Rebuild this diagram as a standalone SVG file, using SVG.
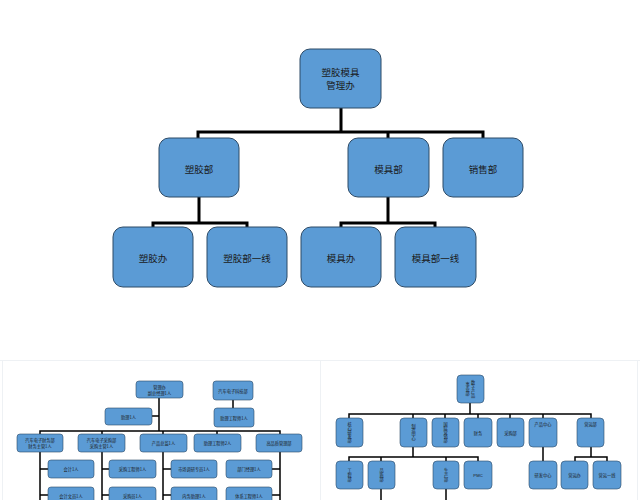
<svg xmlns="http://www.w3.org/2000/svg" width="640" height="500" viewBox="0 0 640 500">
<style>
.n{fill:#5b9bd5;stroke:#2d4a66;stroke-width:1}
.ns{fill:#5b9bd5;stroke:#2d4a66;stroke-width:0.6}
.t{font-family:"Noto Sans CJK SC","Liberation Sans",sans-serif;font-size:9.5px;fill:#1a1a1a;text-anchor:middle;dominant-baseline:central}
.s{font-family:"Noto Sans CJK SC","Liberation Sans",sans-serif;font-size:4.2px;fill:#1a1a1a;text-anchor:middle;dominant-baseline:central}
.v{font-family:"Noto Sans CJK SC","Liberation Sans",sans-serif;font-size:4.2px;fill:#1a1a1a;text-anchor:middle;writing-mode:vertical-rl}
.c{fill:none;stroke:#000;stroke-width:3}
.cs{fill:none;stroke:#000;stroke-width:1.5}
.p{fill:none;stroke:#eef1f4;stroke-width:1}
</style>
<rect width="640" height="500" fill="#fff"/>
<g id="panels">
<path class="p" d="M0,360.5 H640 M320.5,360 V500 M2.5,360 V500 M637.5,360 V500"/>
</g>
<g id="connectors">
<path class="c" d="M341,108 V132 M198,138 V132 H483 V138 M388,132 V138"/>
<path class="c" d="M199,197 V223 M153,227 V223 H247 V227"/>
<path class="c" d="M388,197 V223 M341,227 V223 H435 V227"/>
<path class="cs" d="M159,398 V431 M152,416 H159 M40,434 V431 H280 V434 M102,431 V434 M163,431 V434 M217,431 V434 M233,400 V408"/>
<path class="cs" d="M40,452 V500 M40,469 H48 M40,495 H48 M102,452 V500 M102,469 H109 M102,495 H109 M163,452 V500 M163,469 H171 M163,495 H171 M280,452 V500 M280,469 H272 M280,495 H272"/>
<path class="cs" d="M470,403 V414 M349,418 V414 H591 V418 M413,414 V418 M445,414 V418 M478,414 V418 M510,414 V418 M543,414 V418"/>
<path class="cs" d="M413,447 V457 M349,461 V457 H478 V461 M381,457 V461 M446,457 V461 M381,489 V500 M446,489 V500 M543,447 V461 M591,447 V457 M575,461 V457 H607 V461"/>
</g>
<g id="top-root"><rect class="n" x="300" y="49" width="81" height="59" rx="10"/><text class="t" x="340.5" y="72">塑胶模具</text><text class="t" x="340.5" y="85">管理办</text></g>
<g id="top-suojiaobu"><rect class="n" x="159" y="138" width="80" height="59" rx="10"/><text class="t" x="199" y="169">塑胶部</text></g>
<g id="top-mojubu"><rect class="n" x="348" y="138" width="81" height="59" rx="10"/><text class="t" x="388.5" y="169">模具部</text></g>
<g id="top-xiaoshoubu"><rect class="n" x="443" y="138" width="80" height="59" rx="10"/><text class="t" x="483" y="169">销售部</text></g>
<g id="top-suojiaoban"><rect class="n" x="113" y="227" width="80" height="60" rx="10"/><text class="t" x="153" y="258">塑胶办</text></g>
<g id="top-suojiaoyixian"><rect class="n" x="207" y="227" width="80" height="60" rx="10"/><text class="t" x="247" y="258">塑胶部一线</text></g>
<g id="top-mojuban"><rect class="n" x="301" y="227" width="80" height="60" rx="10"/><text class="t" x="341" y="258">模具办</text></g>
<g id="top-mojuyixian"><rect class="n" x="395" y="227" width="81" height="60" rx="10"/><text class="t" x="435.5" y="258">模具部一线</text></g>
<g id="bl-root"><rect class="ns" x="136" y="381" width="47" height="17" rx="3"/><text class="s" x="159.5" y="386.5">管理办</text><text class="s" x="159.5" y="392.5">副总经理1人</text></g>
<g id="bl-keji"><rect class="ns" x="213" y="381" width="40" height="19" rx="3"/><text class="s" x="233" y="390.5">汽车电子科技部</text></g>
<g id="bl-zhuligcs"><rect class="ns" x="214" y="408" width="40" height="19" rx="3"/><text class="s" x="234" y="417.5">助理工程师1人</text></g>
<g id="bl-zhuli"><rect class="ns" x="105" y="408" width="47" height="17" rx="3"/><text class="s" x="128.5" y="416.5">助理1人</text></g>
<g id="bl-caiwu"><rect class="ns" x="17" y="434" width="46" height="18" rx="3"/><text class="s" x="40" y="440">汽车电子财务部</text><text class="s" x="40" y="446">财务主管1人</text></g>
<g id="bl-caigou"><rect class="ns" x="78" y="434" width="47" height="18" rx="3"/><text class="s" x="101.5" y="440">汽车电子采购部</text><text class="s" x="101.5" y="446">采购主管1人</text></g>
<g id="bl-chanpin"><rect class="ns" x="140" y="434" width="47" height="18" rx="3"/><text class="s" x="163.5" y="443">产品总监1人</text></g>
<g id="bl-zhuli2"><rect class="ns" x="194" y="434" width="47" height="18" rx="3"/><text class="s" x="217.5" y="443">助理工程师2人</text></g>
<g id="bl-pinzhi"><rect class="ns" x="256" y="434" width="46" height="18" rx="3"/><text class="s" x="279" y="443">高品质管理部</text></g>
<g id="bl-kuaiji"><rect class="ns" x="48" y="460" width="46" height="18" rx="3"/><text class="s" x="71" y="469">会计1人</text></g>
<g id="bl-kuaijiwenyuan"><rect class="ns" x="48" y="487" width="46" height="18" rx="3"/><text class="s" x="71" y="496">会计文员1人</text></g>
<g id="bl-caigougcs"><rect class="ns" x="109" y="460" width="47" height="18" rx="3"/><text class="s" x="132.5" y="469">采购工程师1人</text></g>
<g id="bl-caigouyuan"><rect class="ns" x="109" y="487" width="47" height="18" rx="3"/><text class="s" x="132.5" y="496">采购员1人</text></g>
<g id="bl-shichang"><rect class="ns" x="171" y="460" width="46" height="18" rx="3"/><text class="s" x="194" y="469">市场调研专员1人</text></g>
<g id="bl-neiwu"><rect class="ns" x="171" y="487" width="46" height="18" rx="3"/><text class="s" x="194" y="496">内务助理1人</text></g>
<g id="bl-bumen"><rect class="ns" x="226" y="460" width="46" height="18" rx="3"/><text class="s" x="249" y="469">部门经理1人</text></g>
<g id="bl-tixi"><rect class="ns" x="226" y="487" width="46" height="18" rx="3"/><text class="s" x="249" y="496">体系工程师1人</text></g>
<g id="br-root"><rect class="ns" x="457" y="375" width="27" height="28" rx="4"/><text class="v" x="473" y="389">数字产品</text><text class="v" x="467.5" y="389">事业部</text></g>
<g id="br-hexin"><rect class="ns" x="336" y="418" width="27" height="29" rx="4"/><text class="v" x="349.5" y="432.5">核心研发部</text></g>
<g id="br-zhizao"><rect class="ns" x="400" y="418" width="27" height="29" rx="4"/><text class="v" x="413.5" y="432.5">制造中心</text></g>
<g id="br-guoji"><rect class="ns" x="432" y="418" width="27" height="29" rx="4"/><text class="v" x="445.5" y="432.5">国际营销部</text></g>
<g id="br-caiwu"><rect class="ns" x="464" y="418" width="28" height="29" rx="4"/><text class="s" x="478" y="432.5">财务</text></g>
<g id="br-caigou"><rect class="ns" x="497" y="418" width="27" height="29" rx="4"/><text class="s" x="510.5" y="432.5">采购部</text></g>
<g id="br-chanpin"><rect class="ns" x="529" y="418" width="28" height="29" rx="4"/><text class="s" x="543" y="423.5">产品中心</text></g>
<g id="br-yunying"><rect class="ns" x="577" y="418" width="27" height="29" rx="4"/><text class="s" x="590.5" y="423.5">营运部</text></g>
<g id="br-gongcheng"><rect class="ns" x="336" y="461" width="27" height="28" rx="4"/><text class="v" x="349.5" y="475">工程部</text></g>
<g id="br-pinzhi"><rect class="ns" x="368" y="461" width="27" height="28" rx="4"/><text class="v" x="381.5" y="475">品质部</text></g>
<g id="br-shengchan"><rect class="ns" x="433" y="461" width="26" height="28" rx="4"/><text class="v" x="446" y="475">生产部</text></g>
<g id="br-pmc"><rect class="ns" x="464" y="461" width="28" height="28" rx="4"/><text class="s" x="478" y="475" style="font-family:'Liberation Sans',sans-serif">PMC</text></g>
<g id="br-yanfa"><rect class="ns" x="529" y="461" width="28" height="28" rx="4"/><text class="s" x="543" y="475">研发中心</text></g>
<g id="br-yunyingban"><rect class="ns" x="561" y="461" width="27" height="28" rx="4"/><text class="s" x="574.5" y="475">营运办</text></g>
<g id="br-yunyingyixian"><rect class="ns" x="593" y="461" width="28" height="28" rx="4"/><text class="s" x="607" y="475">营运一线</text></g>
</svg>
